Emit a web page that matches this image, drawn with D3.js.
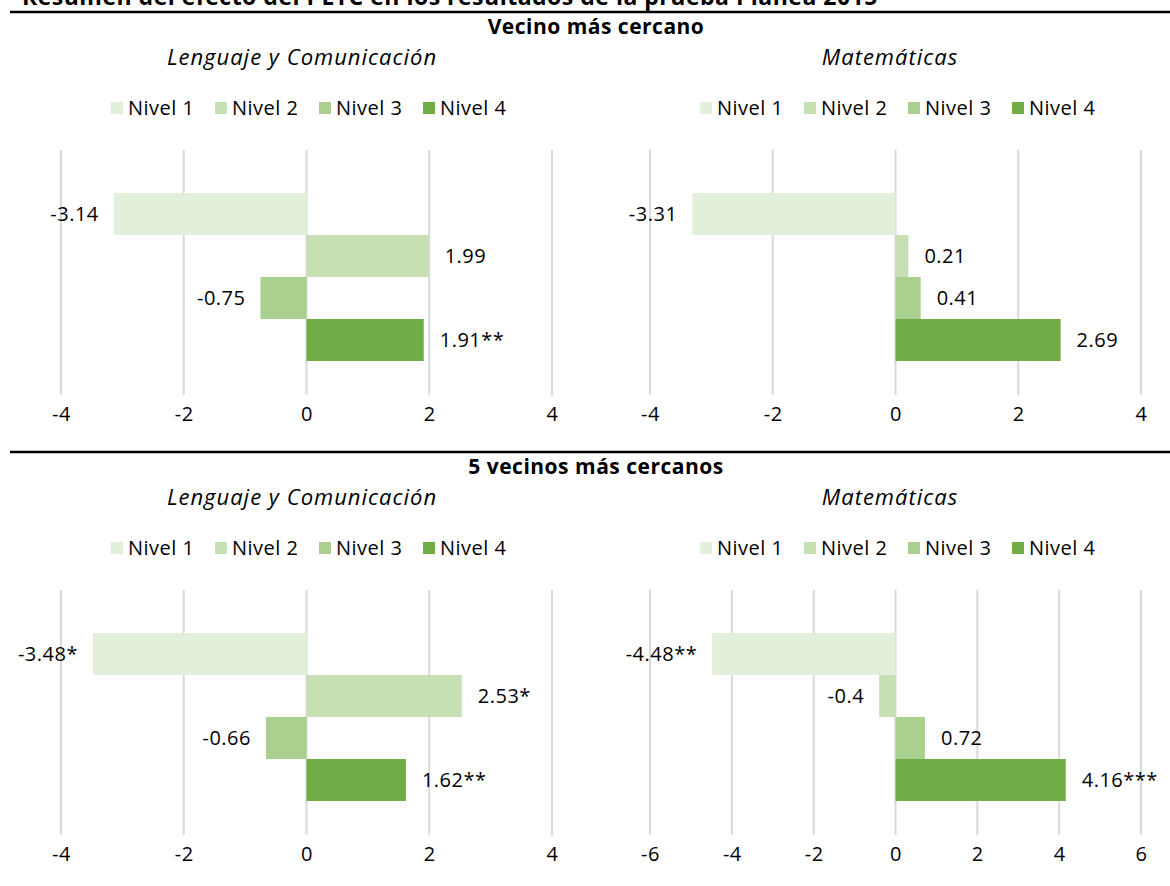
<!DOCTYPE html>
<html lang="es">
<head>
<meta charset="utf-8">
<script src="https://cdn.jsdelivr.net/npm/d3@7"></script>
<style>
  html, body { margin: 0; padding: 0; background: #fff; }
  svg { display: block; font-family: "Open Sans", "Noto Sans", sans-serif; }
</style>
</head>
<body>
<svg id="chart" width="1170" height="886"></svg>
<script>
// Estimated effects by achievement level (Planea 2015)
const series = ["Nivel 1", "Nivel 2", "Nivel 3", "Nivel 4"];
const colors = ["#E2EFDA", "#C6E0B4", "#A9D08E", "#70AD47"];

// Nearest neighbour matching
const nn1Lenguaje = [-3.14, 1.99, -0.75, 1.91];
const nn1LenguajeLabels = ["-3.14", "1.99", "-0.75", "1.91**"];
const nn1Mate = [-3.31, 0.21, 0.41, 2.69];
const nn1MateLabels = ["-3.31", "0.21", "0.41", "2.69"];

// 5 nearest neighbours matching
const nn5Lenguaje = [-3.48, 2.53, -0.66, 1.62];
const nn5LenguajeLabels = ["-3.48*", "2.53*", "-0.66", "1.62**"];
const nn5Mate = [-4.48, -0.4, 0.72, 4.16];
const nn5MateLabels = ["-4.48**", "-0.4", "0.72", "4.16***"];

const ticksA = [-4, -2, 0, 2, 4];
const ticksB = [-6, -4, -2, 0, 2, 4, 6];

const sections = [
  { title: "Vecino más cercano", dy: 0 },
  { title: "5 vecinos más cercanos", dy: 440 }
];

const panels = [
  { sec: 0, subject: "Lenguaje y Comunicación", values: nn1Lenguaje, labels: nn1LenguajeLabels, domain: [-4, 4], ticks: ticksA, x0: 61, center: 302 },
  { sec: 0, subject: "Matemáticas", values: nn1Mate, labels: nn1MateLabels, domain: [-4, 4], ticks: ticksA, x0: 650, center: 890 },
  { sec: 1, subject: "Lenguaje y Comunicación", values: nn5Lenguaje, labels: nn5LenguajeLabels, domain: [-4, 4], ticks: ticksA, x0: 61, center: 302 },
  { sec: 1, subject: "Matemáticas", values: nn5Mate, labels: nn5MateLabels, domain: [-6, 6], ticks: ticksB, x0: 650, center: 890 }
];

const svg = d3.select("#chart");
const plotWidth = 491;

// Overall heading, partly above the page edge
svg.append("text")
  .attr("x", 22).attr("y", 5)
  .attr("font-size", 23).attr("font-weight", 700)
  .attr("letter-spacing", 0.5)
  .attr("fill", "#000")
  .text("Resumen del efecto del PETC en los resultados de la prueba Planea 2015");

sections.forEach(s => {
  const g = svg.append("g").attr("transform", `translate(0,${s.dy})`);
  g.append("line")
    .attr("x1", 10).attr("x2", 1170).attr("y1", 12).attr("y2", 12)
    .attr("stroke", "#000").attr("stroke-width", 2.5);
  g.append("text")
    .attr("x", 596).attr("y", 34)
    .attr("text-anchor", "middle")
    .attr("font-size", 21).attr("font-weight", 700)
    .attr("letter-spacing", 0.5)
    .text(s.title);
});

panels.forEach(p => {
  const dy = sections[p.sec].dy;
  const g = svg.append("g").attr("transform", `translate(0,${dy})`);

  const x = d3.scaleLinear().domain(p.domain).range([p.x0, p.x0 + plotWidth]);
  const y = d3.scaleBand().domain(series).range([193, 361]).padding(0);

  // subject subtitle
  g.append("text")
    .attr("x", p.center).attr("y", 65)
    .attr("text-anchor", "middle")
    .attr("font-size", 22).attr("font-style", "italic")
    .attr("letter-spacing", 1)
    .text(p.subject);

  // legend
  const leg = g.append("g").attr("transform", `translate(${p.x0 + 50},108)`);
  series.forEach((name, i) => {
    const it = leg.append("g").attr("transform", `translate(${i * 104},0)`);
    it.append("rect").attr("x", 0).attr("y", -6).attr("width", 12).attr("height", 12).attr("fill", colors[i]);
    it.append("text").attr("x", 17).attr("y", 0).attr("dy", "0.35em")
      .attr("font-size", 20).attr("letter-spacing", 0.5).attr("fill", "#000").text(name);
  });

  // vertical gridlines
  g.append("g").selectAll("line").data(p.ticks).join("line")
    .attr("x1", d => x(d)).attr("x2", d => x(d))
    .attr("y1", 150).attr("y2", 395)
    .attr("stroke", "#d9d9d9").attr("stroke-width", 2);

  // bars
  g.append("g").selectAll("rect").data(p.values).join("rect")
    .attr("x", d => Math.min(x(0), x(d)))
    .attr("width", d => Math.abs(x(d) - x(0)))
    .attr("y", (d, i) => y(series[i]))
    .attr("height", y.bandwidth())
    .attr("fill", (d, i) => colors[i]);

  // value labels
  g.append("g").selectAll("text").data(p.values).join("text")
    .attr("x", d => d < 0 ? x(d) - 15 : x(d) + 16)
    .attr("y", (d, i) => y(series[i]) + y.bandwidth() / 2)
    .attr("dy", "0.35em")
    .attr("text-anchor", d => d < 0 ? "end" : "start")
    .attr("font-size", 20).attr("letter-spacing", 0.5).attr("fill", "#000")
    .text((d, i) => p.labels[i]);

  // x axis tick labels
  const axis = d3.axisBottom(x).tickValues(p.ticks).tickSize(0).tickFormat(d => d < 0 ? "-" + Math.abs(d) : String(d));
  const ag = g.append("g").attr("transform", "translate(0,404)").call(axis);
  ag.select(".domain").remove();
  ag.selectAll("text")
    .attr("font-size", 20).attr("letter-spacing", 0.5)
    .attr("font-family", "'Open Sans', 'Noto Sans', sans-serif")
    .attr("fill", "#000").attr("dy", "0.71em");
});
</script>
</body>
</html>
